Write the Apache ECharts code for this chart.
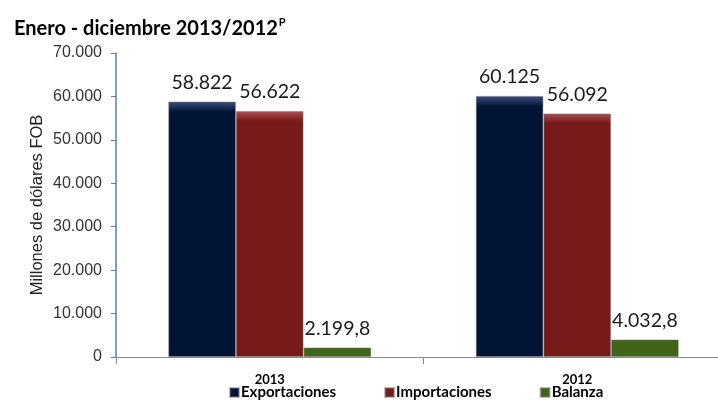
<!DOCTYPE html>
<html>
<head>
<meta charset="utf-8">
<script src="https://cdn.jsdelivr.net/npm/echarts@6/dist/echarts.min.js"></script>
<style>
  html, body { margin: 0; padding: 0; background: #fff; }
  #chart { width: 718px; height: 405px; }
</style>
</head>
<body>
<div id="chart"></div>
<script>
  // datos
  var years = ['2013', '2012'];
  var exportaciones = [58822, 60125];
  var importaciones = [56622, 56092];
  var balanza = [2199.8, 4032.8];
  var seriesNames = ['Exportaciones', 'Importaciones', 'Balanza'];

  // formato con punto de miles y coma decimal
  function fmt(v) {
    var parts = String(v).split('.');
    var ent = parts[0].replace(/\B(?=(\d{3})+(?!\d))/g, '.');
    return parts.length > 1 ? ent + ',' + parts[1] : ent;
  }

  function bar(name, data, top, bottom) {
    return {
      name: name,
      type: 'bar',
      data: data,
      barGap: '0%',
      barCategoryGap: '34%',
      itemStyle: {
        color: new echarts.graphic.LinearGradient(0, 0, 0, 1, [
          { offset: 0, color: top },
          { offset: 0.04, color: bottom },
          { offset: 1, color: bottom }
        ]),
        borderColor: 'rgba(120,120,120,0.5)',
        borderWidth: 1
      },
      label: {
        show: true,
        position: 'top',
        distance: 9,
        color: '#1a1a1a',
        fontFamily: 'Lato',
        fontSize: 19.5,
        formatter: function (p) { return fmt(p.value); }
      }
    };
  }

  var myChart = echarts.init(document.getElementById('chart'));

  var options = {
    animation: false,
    title: {
      text: '{t|Enero - diciembre 2013/2012}{s|P}',
      left: 9,
      top: 12,
      textStyle: {
        rich: {
          t: { fontFamily: 'Lato', fontWeight: 'bold', fontSize: 20, color: '#000' },
          s: { fontFamily: 'Lato', fontWeight: 'bold', fontSize: 11, color: '#000', verticalAlign: 'top', padding: [0, 0, 12, 1] }
        }
      }
    },
    legend: {
      data: seriesNames,
      bottom: 0,
      left: 224,
      itemWidth: 9,
      itemHeight: 9,
      itemGap: 48,
      icon: 'rect',
      textStyle: { fontFamily: 'Lato', fontWeight: 'bold', fontSize: 15, color: '#000', padding: [0, 0, 0, -3] }
    },
    grid: {
      left: 116,
      width: 615,
      top: 53,
      bottom: 48,
      outerBoundsMode: 'none'
    },
    xAxis: {
      type: 'category',
      data: years,
      axisLine: { lineStyle: { color: '#888' } },
      axisTick: { show: true, length: 7, lineStyle: { color: '#888' } },
      axisLabel: { fontFamily: 'Lato', fontWeight: 'bold', fontSize: 13, color: '#000', margin: 16 }
    },
    yAxis: {
      type: 'value',
      min: 0,
      max: 70000,
      interval: 10000,
      name: 'Millones de dólares FOB',
      nameLocation: 'middle',
      nameGap: 70,
      nameMoveOverlap: false,
      nameTextStyle: { fontFamily: 'Liberation Sans', fontSize: 16.5, color: '#222' },
      axisLine: { show: true, lineStyle: { color: '#4f81bd', width: 1.5 } },
      axisTick: { show: true, length: 5, lineStyle: { color: '#4f81bd' } },
      splitLine: { show: false },
      axisLabel: {
        fontFamily: 'Liberation Sans',
        fontSize: 16,
        color: '#333',
        margin: 14,
        formatter: function (v) { return fmt(v); }
      }
    },
    series: [
      bar(seriesNames[0], exportaciones, '#3b5080', '#021436'),
      bar(seriesNames[1], importaciones, '#b05050', '#761a1a'),
      bar(seriesNames[2], balanza, '#7a9a40', '#3f6418')
    ]
  };

  myChart.setOption(options, true);
</script>
</body>
</html>
